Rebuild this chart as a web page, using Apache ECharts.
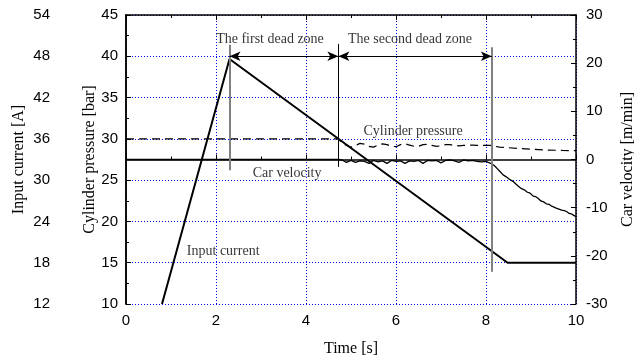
<!DOCTYPE html>
<html>
<head>
<meta charset="utf-8">
<script src="https://cdn.jsdelivr.net/npm/echarts@6/dist/echarts.min.js"></script>
<style>
  html, body { margin: 0; padding: 0; background: #fff; overflow: hidden; }
  #chart { width: 634px; height: 361px; }
</style>
</head>
<body>
<div id="chart"></div>
<script>
// Input current [A] over time [s]
const currentData = [[0.8, 12], [2.3, 47.6], [8.48, 18], [10, 18]];

// Cylinder pressure [bar] over time [s]
const pressureData = [
  [0, 30], [4.72, 30], [4.8, 29.5], [4.9, 29.2], [5.0, 29.0], [5.1, 29.2], [5.2, 29.45],
  [5.3, 29.35], [5.4, 29.1], [5.5, 29.0], [5.6, 29.25], [5.7, 29.4], [5.8, 29.3],
  [5.9, 29.1], [6.0, 29.05], [6.1, 29.3], [6.2, 29.4], [6.3, 29.25], [6.4, 29.1],
  [6.5, 29.1], [6.6, 29.3], [6.7, 29.35], [6.8, 29.2], [6.9, 29.1], [7.0, 29.15],
  [7.1, 29.3], [7.2, 29.3], [7.3, 29.2], [7.4, 29.15], [7.5, 29.2], [7.6, 29.25],
  [7.7, 29.25], [7.8, 29.2], [7.9, 29.2], [8.0, 29.22], [8.1, 29.2], [8.3, 29.0],
  [8.7, 28.85], [9.3, 28.65], [9.7, 28.6], [10, 28.57]
];

// Car velocity [m/min] over time [s]
const velocityData = [
  [0, 0], [4.72, 0], [4.8, -0.1], [4.9, -0.6], [5.0, -0.2], [5.1, -0.6], [5.2, -0.3],
  [5.3, -0.4], [5.4, -0.8], [5.5, -0.2], [5.6, -0.5], [5.7, -0.3], [5.8, -0.8],
  [5.9, -0.2], [6.0, -0.4], [6.1, -0.3], [6.2, -0.8], [6.3, -0.3], [6.4, -0.4],
  [6.5, -0.2], [6.6, -0.8], [6.7, -0.2], [6.8, -0.3], [6.9, -0.2], [7.0, -0.7],
  [7.1, -0.2], [7.2, -0.1], [7.3, -0.3], [7.4, -0.6], [7.5, -0.1], [7.6, -0.3],
  [7.7, -0.2], [7.8, -0.4], [7.9, -0.5], [8.0, -0.4], [8.05, -0.6], [8.13, -0.9],
  [8.2, -1.4], [8.25, -1.9], [8.31, -2.5], [8.38, -3.2], [8.45, -3.6], [8.52, -4.1],
  [8.61, -4.6], [8.7, -5.4], [8.78, -6.0], [8.85, -6.3], [8.92, -6.8], [8.98, -7.0],
  [9.05, -7.6], [9.1, -7.7], [9.16, -8.1], [9.22, -8.6], [9.28, -8.8], [9.34, -9.2],
  [9.4, -9.3], [9.46, -9.7], [9.5, -9.8], [9.56, -10.1], [9.62, -10.3], [9.68, -10.5],
  [9.74, -10.6], [9.79, -10.8], [9.85, -11.2], [9.9, -11.3], [9.95, -11.6], [10, -11.9]
];

// Dead-zone boundaries: time [s] and vertical extent in bar
const deadZoneTimes = [2.3, 4.72, 8.13];
const deadZoneSpans = [[26.2, 41.4], [26.6, 41.5], [13.9, 41.1]];
const deadZoneArrowLevel = 40;

// Text annotations placed in (time, bar) coordinates
const annotationTexts = ['The first dead zone', 'The second dead zone', 'Cylinder pressure', 'Car velocity', 'Input current'];
const annotationCoords = [[3.2, 42.06], [6.31, 42.06], [6.38, 30.87], [3.58, 25.83], [2.16, 16.33]];

const serif = "'Liberation Serif', 'Times New Roman', serif";
const sans = "'Liberation Sans', Arial, sans-serif";
const gridBlue = { color: '#0000ff', type: [1, 2], width: 1 };
const axisBlack = { color: '#000', width: 1.5 };

const chart = echarts.init(document.getElementById('chart'), null, { renderer: 'canvas', width: 634, height: 361 });

const boundaryLines = deadZoneTimes.map((t, i) => [
  { coord: [t, deadZoneSpans[i][0]], lineStyle: i === 1 ? { color: '#000', width: 1, type: 'solid' } : { color: '#808080', width: 2, type: 'solid' } },
  { coord: [t, deadZoneSpans[i][1]] }
]);
const arrowLines = [0, 1].map(i => [
  { coord: [deadZoneTimes[i], deadZoneArrowLevel], symbol: 'arrow', lineStyle: { color: '#000', width: 1.2, type: 'solid' } },
  { coord: [deadZoneTimes[i + 1], deadZoneArrowLevel], symbol: 'arrow' }
]);

chart.setOption({
  animation: false,
  backgroundColor: '#fff',
  grid: { left: 126, top: 15, width: 450, height: 289, containLabel: false, outerBoundsMode: 'none' },
  xAxis: [
    {
      type: 'value', min: 0, max: 10, interval: 2, position: 'bottom',
      name: 'Time [s]', nameLocation: 'middle', nameGap: 37, nameMoveOverlap: false,
      nameTextStyle: { fontFamily: serif, fontSize: 16, color: '#000' },
      axisLine: { lineStyle: axisBlack },
      axisTick: { inside: true, length: 5, lineStyle: { color: '#000' } },
      minorTick: { show: true, splitNumber: 2, length: 3, lineStyle: { color: '#000' } },
      axisLabel: { fontFamily: sans, fontSize: 15, color: '#000', margin: 9 },
      splitLine: { show: true, lineStyle: gridBlue }
    },
    {
      type: 'value', min: 0, max: 10, interval: 2, position: 'top',
      axisLine: { lineStyle: axisBlack },
      axisTick: { inside: true, length: 5, lineStyle: { color: '#000' } },
      minorTick: { show: true, splitNumber: 2, length: 3, lineStyle: { color: '#000' } },
      axisLabel: { show: false },
      splitLine: { show: false }
    }
  ],
  yAxis: [
    {
      type: 'value', min: 10, max: 45, interval: 5, position: 'left',
      name: 'Cylinder pressure [bar]', nameLocation: 'middle', nameGap: 28, nameRotate: 90, nameMoveOverlap: false,
      nameTextStyle: { fontFamily: serif, fontSize: 16, color: '#000' },
      axisLine: { show: true, lineStyle: axisBlack },
      axisTick: { show: true, inside: true, length: 5, lineStyle: { color: '#000' } },
      minorTick: { show: true, splitNumber: 2, length: 3, lineStyle: { color: '#000' } },
      axisLabel: { fontFamily: sans, fontSize: 15, color: '#000', margin: 8 },
      splitLine: { show: true, lineStyle: gridBlue }
    },
    {
      type: 'value', min: 12, max: 54, interval: 6, position: 'left', offset: 68,
      name: 'Input current [A]', nameLocation: 'middle', nameGap: 31, nameRotate: 90, nameMoveOverlap: false,
      nameTextStyle: { fontFamily: serif, fontSize: 16, color: '#000' },
      axisLine: { show: true, lineStyle: axisBlack },
      axisTick: { show: true, inside: true, length: 5, lineStyle: { color: '#000' } },
      minorTick: { show: true, splitNumber: 2, length: 3, lineStyle: { color: '#000' } },
      axisLabel: { fontFamily: sans, fontSize: 15, color: '#000', margin: 8 },
      splitLine: { show: false }
    },
    {
      type: 'value', min: -30, max: 30, interval: 10, position: 'right',
      name: 'Car velocity [m/min]', nameLocation: 'middle', nameGap: 44, nameRotate: 90, nameMoveOverlap: false,
      nameTextStyle: { fontFamily: serif, fontSize: 16, color: '#000' },
      axisLine: { show: true, lineStyle: axisBlack },
      axisTick: { show: true, inside: true, length: 5, lineStyle: { color: '#000' } },
      minorTick: { show: true, splitNumber: 2, length: 3, lineStyle: { color: '#000' } },
      axisLabel: { fontFamily: sans, fontSize: 15, color: '#000', margin: 10 },
      splitLine: { show: false }
    }
  ],
  series: [
    {
      name: 'Cylinder pressure', type: 'line', xAxisIndex: 0, yAxisIndex: 0,
      data: pressureData, showSymbol: false, symbol: 'none', clip: true,
      lineStyle: { color: '#000', width: 1.2, type: [8, 5] },
      markLine: {
        silent: true, symbol: 'none', symbolSize: [7, 11], label: { show: false },
        data: boundaryLines.concat(arrowLines)
      }
    },
    {
      name: 'Car velocity', type: 'line', xAxisIndex: 0, yAxisIndex: 2,
      data: velocityData, showSymbol: false, symbol: 'none', clip: true,
      lineStyle: { color: '#000', width: 1.3 }
    },
    {
      name: 'Input current', type: 'line', xAxisIndex: 0, yAxisIndex: 1,
      data: currentData, showSymbol: false, symbol: 'none', clip: true,
      lineStyle: { color: '#000', width: 2 }
    },
    {
      name: 'Annotations', type: 'scatter', xAxisIndex: 0, yAxisIndex: 0,
      symbolSize: 1, itemStyle: { color: 'rgba(0,0,0,0)' }, silent: true,
      data: annotationTexts.map((txt, i) => ({ name: txt, value: annotationCoords[i] })),
      label: {
        show: true, position: 'inside', formatter: '{b}',
        fontFamily: serif, fontSize: 14, color: '#000'
      },
      labelLayout: { hideOverlap: false }
    }
  ]
});
</script>
</body>
</html>
